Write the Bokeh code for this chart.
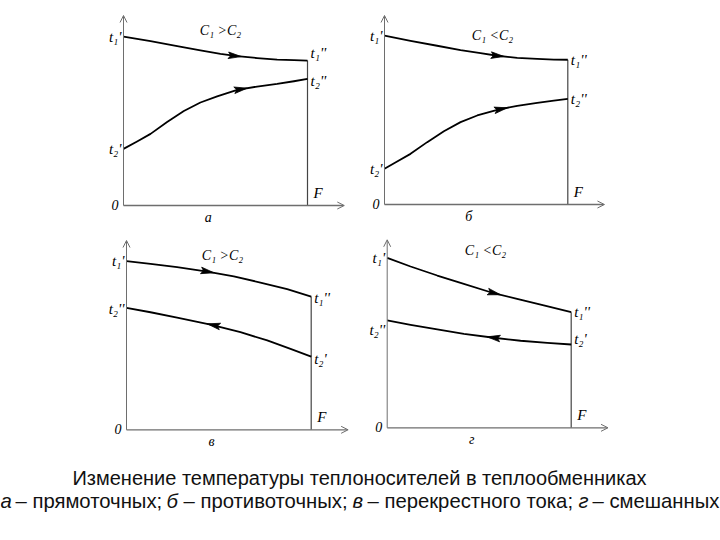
import numpy as np
from bokeh.plotting import figure
from bokeh.models import Range1d, Arrow, OpenHead
from bokeh.layouts import column, row
from bokeh.embed import file_html
from bokeh.resources import INLINE
from bokeh.core.properties import value

# ---------------- data ----------------
panel_letters = ["а", "б", "в", "г"]
capacity_text = ["C₁ >C₂", "C₁ <C₂", "C₁ >C₂", "C₁ <C₂"]

# relative heat-exchange area F (0..1) and relative temperature t (0 = origin, 1 = axis top)
a_hot_F = [0.0, 0.147, 0.292, 0.418, 0.527, 0.618, 0.726, 0.835, 0.926, 1.0]
a_hot_t = [0.889, 0.865, 0.839, 0.816, 0.798, 0.786, 0.776, 0.768, 0.765, 0.763]
a_cold_F = [0.0, 0.074, 0.147, 0.237, 0.328, 0.418, 0.509, 0.618, 0.726, 0.835, 0.926, 1.0]
a_cold_t = [0.298, 0.337, 0.377, 0.439, 0.497, 0.542, 0.574, 0.609, 0.626, 0.640, 0.654, 0.667]

b_hot_F = [0.0, 0.142, 0.287, 0.415, 0.524, 0.615, 0.724, 0.833, 0.924, 1.0]
b_hot_t = [0.894, 0.866, 0.840, 0.817, 0.801, 0.787, 0.776, 0.771, 0.767, 0.766]
b_cold_F = [0.0, 0.069, 0.142, 0.233, 0.324, 0.415, 0.506, 0.615, 0.724, 0.833, 0.924, 1.0]
b_cold_t = [0.189, 0.228, 0.268, 0.330, 0.388, 0.436, 0.471, 0.501, 0.522, 0.538, 0.550, 0.559]

v_hot_F = [0.0, 0.130, 0.274, 0.437, 0.581, 0.725, 0.870, 1.0]
v_hot_t = [0.891, 0.877, 0.859, 0.836, 0.810, 0.778, 0.743, 0.704]
v_cold_F = [0.0, 0.130, 0.274, 0.455, 0.617, 0.762, 0.888, 1.0]
v_cold_t = [0.644, 0.621, 0.592, 0.556, 0.516, 0.472, 0.428, 0.387]

g_hot_F = [0.0, 0.127, 0.272, 0.399, 0.562, 0.706, 0.851, 1.0]
g_hot_t = [0.904, 0.858, 0.810, 0.771, 0.721, 0.686, 0.651, 0.615]
g_cold_F = [0.0, 0.127, 0.272, 0.417, 0.580, 0.725, 0.870, 1.0]
g_cold_t = [0.571, 0.548, 0.523, 0.500, 0.479, 0.463, 0.452, 0.443]

hot_F = [a_hot_F, b_hot_F, v_hot_F, g_hot_F]
hot_t = [a_hot_t, b_hot_t, v_hot_t, g_hot_t]
cold_F = [a_cold_F, b_cold_F, v_cold_F, g_cold_F]
cold_t = [a_cold_t, b_cold_t, v_cold_t, g_cold_t]
cold_direction = [1, 1, -1, -1]          # +1: flows with F, -1: against F
hot_arrow_F = [0.640, 0.652, 0.473, 0.616]
cold_arrow_F = [0.672, 0.670, 0.437, 0.543]

caption_line1 = "Изменение температуры теплоносителей в теплообменниках"
caption_line2 = [("а", True), ("– прямоточных;", False), ("б", True), ("– противоточных;", False),
                 ("в", True), ("– перекрестного тока;", False), ("г", True), ("– смешанных", False)]

# ---------------- layout / style ----------------
GEOM = [
    dict(w=360, h=230, ax=123.0, fx=307.0, zy=205.0, ty=15.0, cap=(220, 30), off=dict(r1=-8, l2=0, r2=2)),
    dict(w=360, h=230, ax=24.0, fx=207.3, zy=204.0, ty=15.0, cap=(132, 35), off=dict(r1=0, l2=0, r2=0)),
    dict(w=360, h=225, ax=126.0, fx=310.7, zy=199.3, ty=10.0, cap=(222, 25), off=dict(r1=1, l2=1, r2=2)),
    dict(w=360, h=225, ax=26.7, fx=210.7, zy=197.3, ty=9.3, cap=(125, 20), off=dict(r1=0, l2=10, r2=-6)),
]
SERIF = value("Liberation Serif")
SANS = value("Liberation Sans")
AXIS_COLOR = "#6e6e6e"
CAPTION_X = [0, 15, 166, 183, 352, 367, 578, 592]   # left edges of caption line-2 pieces


def arrow_head(xs, ts, xt, direction, sx, sy, L=13.0, hw=3.3, notch=2.5):
    yt = np.interp(xt, xs, ts)
    d = 0.01
    slope = (np.interp(xt + d, xs, ts) - np.interp(xt - d, xs, ts)) / (2 * d)
    vx, vy = sx * direction, sy * slope * direction
    n = np.hypot(vx, vy)
    ux, uy = vx / n, vy / n
    px, py = -uy, ux
    tx, ty = xt * sx, yt * sy
    bx, by = tx - ux * L, ty - uy * L
    pts = [(tx, ty), (bx + px * hw, by + py * hw), (bx + ux * notch, by + uy * notch), (bx - px * hw, by - py * hw)]
    return [q[0] / sx for q in pts], [q[1] / sy for q in pts]


def make_panel(i):
    g = GEOM[i]
    sx = g["fx"] - g["ax"]
    sy = g["zy"] - g["ty"]
    p = figure(width=g["w"], height=g["h"],
               x_range=Range1d(-g["ax"] / sx, (g["w"] - g["ax"]) / sx),
               y_range=Range1d((g["zy"] - g["h"]) / sy, g["zy"] / sy),
               x_axis_type=None, y_axis_type=None,
               output_backend="svg", toolbar_location=None,
               min_border=0, outline_line_color=None, background_fill_color="white")
    p.xgrid.visible = False
    p.ygrid.visible = False

    p.add_layout(Arrow(end=OpenHead(size=7, line_color=AXIS_COLOR, line_width=1),
                       x_start=0, y_start=0, x_end=1.2, y_end=0,
                       line_color=AXIS_COLOR, line_width=1.3))
    p.add_layout(Arrow(end=OpenHead(size=7, line_color=AXIS_COLOR, line_width=1),
                       x_start=0, y_start=0, x_end=0, y_end=1.0,
                       line_color=AXIS_COLOR, line_width=1.0))
    hF, ht, cF, ct = hot_F[i], hot_t[i], cold_F[i], cold_t[i]
    p.line([hF[-1], hF[-1]], [0, ht[-1]], line_color="#444444", line_width=1.2)

    p.line(hF, ht, line_color="black", line_width=1.8, line_join="round")
    p.line(cF, ct, line_color="black", line_width=1.8, line_join="round")
    hx, hy = arrow_head(hF, ht, hot_arrow_F[i], 1, sx, sy)
    p.patch(hx, hy, fill_color="black", line_color="black", line_width=0.8)
    cx, cy = arrow_head(cF, ct, cold_arrow_F[i], cold_direction[i], sx, sy)
    p.patch(cx, cy, fill_color="black", line_color="black", line_width=0.8)

    if cold_direction[i] > 0:
        cold_left, cold_right = "t₂'", "t₂''"
    else:
        cold_left, cold_right = "t₂''", "t₂'"
    off = g["off"]
    p.text(x=[0, 0], y=[ht[0], ct[0]], text=["t₁'", cold_left],
           text_font=SERIF, text_font_style="italic", text_font_size="15px",
           text_align="right", text_baseline="middle", x_offset=-2, y_offset=[0, off["l2"]])
    p.text(x=[hF[-1], cF[-1]], y=[ht[-1], ct[-1]], text=["t₁''", cold_right],
           text_font=SERIF, text_font_style="italic", text_font_size="15px",
           text_align="left", text_baseline="middle", x_offset=3, y_offset=[off["r1"], off["r2"]])
    p.text(x=[0], y=[0], text=["0"], text_font=SERIF, text_font_style="italic",
           text_font_size="14px", text_align="right", text_baseline="middle", x_offset=-5, y_offset=-1)
    p.text(x=[hF[-1]], y=[0], text=["F"], text_font=SERIF, text_font_style="italic",
           text_font_size="15px", text_align="left", text_baseline="bottom", x_offset=6, y_offset=-5)
    p.text(x=[0.46], y=[0], text=[panel_letters[i]], text_font=SERIF, text_font_style="italic",
           text_font_size="14px", text_align="center", text_baseline="middle", y_offset=12)
    cxp, cyp = g["cap"]
    p.text(x=[(cxp - g["ax"]) / sx], y=[(g["zy"] - cyp) / sy], text=[capacity_text[i]],
           text_font=SERIF, text_font_style="italic", text_font_size="14px",
           text_align="center", text_baseline="middle")
    return p


panels = [make_panel(i) for i in range(4)]

cap = figure(width=720, height=85, x_range=Range1d(0, 720), y_range=Range1d(85, 0),
             x_axis_type=None, y_axis_type=None, output_backend="svg", toolbar_location=None,
             min_border=0, outline_line_color=None)
cap.xgrid.visible = False
cap.ygrid.visible = False
cap.text(x=[359], y=[22], text=[caption_line1], text_font=SANS, text_font_size="20px",
         text_align="center", text_baseline="middle", text_color="#111111")
it = [k for k, s in enumerate(caption_line2) if s[1]]
nt = [k for k, s in enumerate(caption_line2) if not s[1]]
cap.text(x=[CAPTION_X[k] for k in it], y=[45] * len(it), text=[caption_line2[k][0] for k in it],
         text_font=SANS, text_font_style="italic", text_font_size="20.3px", text_align="left",
         text_baseline="middle", text_color="#111111")
cap.text(x=[CAPTION_X[k] for k in nt], y=[45] * len(nt), text=[caption_line2[k][0] for k in nt],
         text_font=SANS, text_font_size="20.3px", text_align="left",
         text_baseline="middle", text_color="#111111")

layout = column(row(panels[0], panels[1]), row(panels[2], panels[3]), cap)
open("out.html", "w").write(file_html(layout, INLINE))
